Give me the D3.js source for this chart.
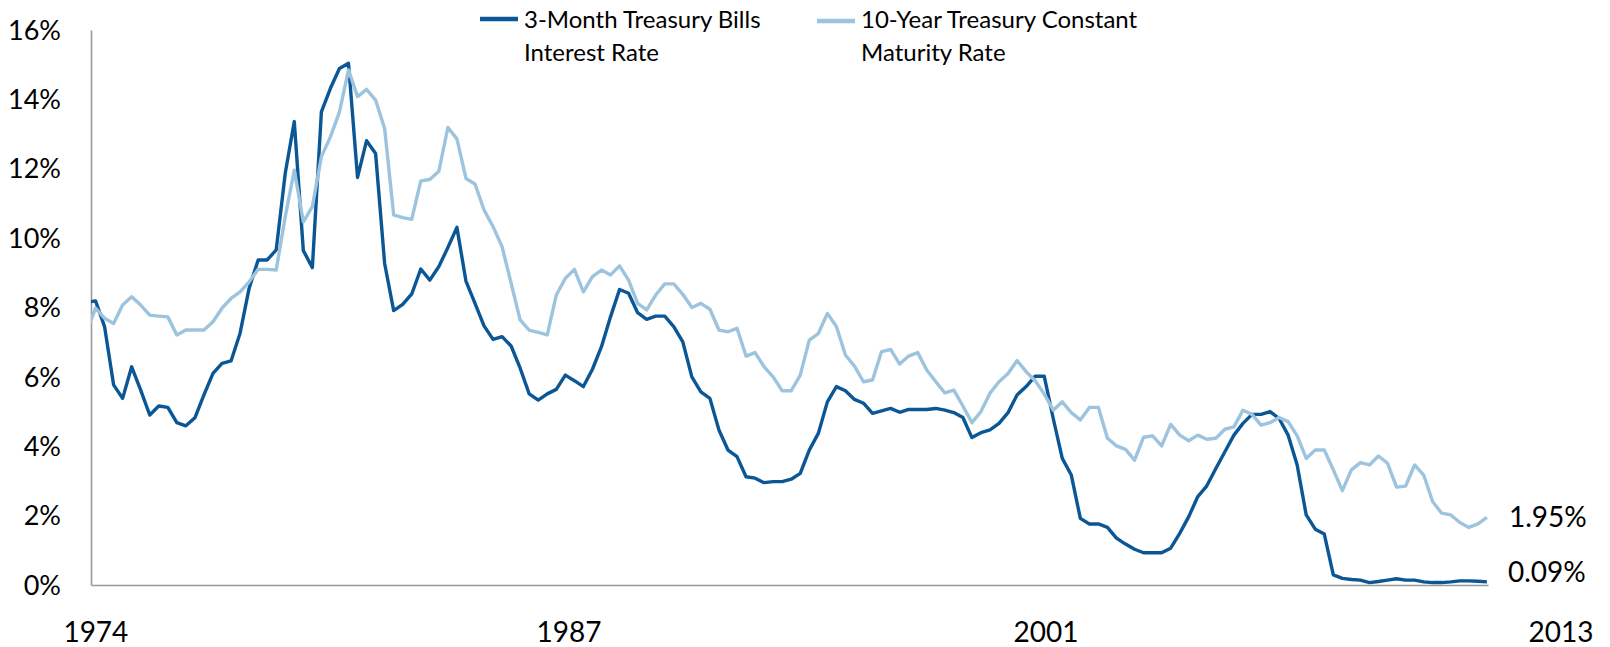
<!DOCTYPE html>
<html>
  <head>
    <meta charset="utf-8">
    <title>treasury-rates.html</title>
    <script type="text/javascript" src="https://cdn.jsdelivr.net/npm/d3@7"></script>
    <style type="text/css">
            body { margin: 0; background: #fff; }
            svg text {
                font-family: Lato, "Open Sans", sans-serif;
                fill: #000;
            }
    </style>
    </head>
    <body>
        <script type="text/javascript">
            var w = 1610;
            var h = 647;

            // quarterly averages, 1974 Q2 .. 2013 Q1
            var startYear = 1974.25;
            var billsRate = [
                8.15, 8.19, 7.45, 5.77, 5.38, 6.29, 5.62, 4.90, 5.16, 5.12,
                4.68, 4.59, 4.82, 5.48, 6.10, 6.39, 6.46, 7.26, 8.55, 9.37,
                9.37, 9.66, 11.87, 13.36, 9.64, 9.15, 13.64, 14.32, 14.89, 15.04,
                11.75, 12.81, 12.44, 9.27, 7.91, 8.09, 8.39, 9.11, 8.79, 9.18,
                9.73, 10.31, 8.76, 8.12, 7.47, 7.08, 7.16, 6.89, 6.25, 5.51,
                5.33, 5.51, 5.64, 6.05, 5.89, 5.72, 6.22, 6.87, 7.73, 8.52,
                8.41, 7.85, 7.66, 7.75, 7.75, 7.45, 7.01, 6.00, 5.57, 5.38,
                4.47, 3.89, 3.70, 3.12, 3.08, 2.95, 2.98, 2.98, 3.05, 3.22,
                3.89, 4.37, 5.28, 5.72, 5.60, 5.35, 5.24, 4.95, 5.02, 5.09,
                4.98, 5.06, 5.06, 5.06, 5.09, 5.04, 4.97, 4.83, 4.25, 4.39,
                4.47, 4.66, 4.97, 5.48, 5.72, 6.02, 6.02, 4.80, 3.65, 3.17,
                1.92, 1.76, 1.76, 1.66, 1.35, 1.18, 1.03, 0.93, 0.93, 0.93,
                1.06, 1.49, 1.97, 2.55, 2.86, 3.36, 3.84, 4.32, 4.66, 4.92,
                4.92, 5.00, 4.80, 4.32, 3.46, 2.02, 1.61, 1.47, 0.29, 0.19,
                0.16, 0.14, 0.07, 0.10, 0.14, 0.18, 0.14, 0.14, 0.09, 0.07,
                0.07, 0.09, 0.12, 0.12, 0.11, 0.09
            ];
            var tenYearRate = [
                7.30, 7.98, 7.69, 7.54, 8.07, 8.31, 8.07, 7.78, 7.75, 7.73,
                7.21, 7.35, 7.35, 7.35, 7.59, 7.98, 8.26, 8.45, 8.74, 9.10,
                9.10, 9.08, 10.62, 11.96, 10.47, 10.91, 12.35, 12.92, 13.64, 14.85,
                14.08, 14.29, 13.98, 13.16, 10.67, 10.59, 10.54, 11.65, 11.69, 11.93,
                13.19, 12.86, 11.72, 11.56, 10.81, 10.33, 9.75, 8.70, 7.64, 7.35,
                7.28, 7.21, 8.36, 8.84, 9.10, 8.45, 8.89, 9.08, 8.94, 9.20,
                8.79, 8.12, 7.93, 8.36, 8.68, 8.68, 8.38, 8.00, 8.12, 7.95,
                7.35, 7.30, 7.40, 6.60, 6.70, 6.29, 6.00, 5.60, 5.60, 6.05,
                7.06, 7.25, 7.83, 7.45, 6.63, 6.31, 5.86, 5.91, 6.73, 6.79,
                6.37, 6.60, 6.70, 6.20, 5.86, 5.54, 5.62, 5.16, 4.68, 5.00,
                5.53, 5.86, 6.10, 6.47, 6.15, 5.89, 5.51, 5.04, 5.28, 4.97,
                4.76, 5.12, 5.12, 4.23, 4.01, 3.91, 3.60, 4.26, 4.30, 4.01,
                4.63, 4.32, 4.16, 4.32, 4.20, 4.23, 4.49, 4.56, 5.04, 4.92,
                4.61, 4.68, 4.83, 4.71, 4.30, 3.65, 3.89, 3.89, 3.32, 2.72,
                3.32, 3.53, 3.46, 3.72, 3.51, 2.82, 2.85, 3.46, 3.17, 2.40,
                2.07, 2.02, 1.80, 1.66, 1.76, 1.95
            ];
            var seriesNames = [
                ["3-Month Treasury Bills", "Interest Rate"],
                ["10-Year Treasury Constant", "Maturity Rate"]
            ];
            var seriesColors = ["#0b5796", "#9dc4de"];
            var yTicks = [0, 2, 4, 6, 8, 10, 12, 14, 16];
            var yearLabels = ["1974", "1987", "2001", "2013"];
            var yearLabelAt = [1974.51, 1987.6, 2000.8, 2015.05];

            var quarters = d3.range(billsRate.length).map(function(i) { return startYear + i / 4; });

            // scales
            var xScale = d3.scaleLinear()
                           .domain([1974.375, 2013.03])
                           .range([91, 1488]);
            var yScale = d3.scaleLinear()
                           .domain([0, 16])
                           .range([585, 30]);

            var svg = d3.select("body")
                        .append("svg")
                        .attr("width", w)
                        .attr("height", h);

            svg.append("rect")
               .attr("width", w)
               .attr("height", h)
               .attr("fill", "#fff");

            svg.append("clipPath")
               .attr("id", "plot")
               .append("rect")
               .attr("x", xScale.range()[0])
               .attr("y", 0)
               .attr("width", w - xScale.range()[0])
               .attr("height", h);

            // axes (lines only, labels drawn separately)
            var yAxis = d3.axisLeft(yScale).tickValues([]).tickSizeOuter(0);
            var xAxis = d3.axisBottom(xScale).tickValues([]).tickSizeOuter(0);

            svg.append("g")
               .attr("class", "axis")
               .attr("transform", "translate(" + xScale.range()[0] + ",0)")
               .call(yAxis);
            svg.append("g")
               .attr("class", "axis")
               .attr("transform", "translate(0," + yScale(0) + ")")
               .call(xAxis);
            svg.selectAll(".axis path")
               .attr("stroke", "#999")
               .attr("stroke-width", 1.6);

            svg.selectAll(".ylab")
               .data(yTicks)
               .enter()
               .append("text")
               .attr("class", "ylab")
               .attr("x", 61)
               .attr("y", function(d) { return yScale(d); })
               .attr("dy", "0.36em")
               .attr("text-anchor", "end")
               .attr("font-size", "27px")
               .text(function(d) { return d + "%"; });

            svg.selectAll(".xlab")
               .data(yearLabels)
               .enter()
               .append("text")
               .attr("class", "xlab")
               .attr("x", function(d, i) { return xScale(yearLabelAt[i]); })
               .attr("y", 642)
               .attr("text-anchor", "middle")
               .attr("font-size", "28px")
               .text(function(d) { return d; });

            // lines
            var line = d3.line()
                         .x(function(d) { return xScale(d[0]); })
                         .y(function(d) { return yScale(d[1]); });

            var series = [billsRate, tenYearRate];
            series.forEach(function(vals, s) {
                svg.append("path")
                   .datum(vals.map(function(v, i) { return [quarters[i], v]; }))
                   .attr("clip-path", "url(#plot)")
                   .attr("fill", "none")
                   .attr("stroke", seriesColors[s])
                   .attr("stroke-width", 3.4)
                   .attr("stroke-linejoin", "round")
                   .attr("d", line);
            });

            // end values
            var lastBills = billsRate[billsRate.length - 1];
            var lastTen = tenYearRate[tenYearRate.length - 1];
            var xEnd = xScale(quarters[quarters.length - 1]);
            svg.append("text")
               .attr("x", xEnd + 22)
               .attr("y", yScale(lastTen))
               .attr("dy", "0.36em")
               .attr("font-size", "28px")
               .text(d3.format(".2f")(lastTen) + "%");
            svg.append("text")
               .attr("x", xEnd + 21)
               .attr("y", yScale(lastBills) - 10)
               .attr("dy", "0.36em")
               .attr("font-size", "28px")
               .text(d3.format(".2f")(lastBills) + "%");

            // legend
            var legendX = [480, 817];
            var legend = svg.selectAll(".legend")
                            .data(seriesNames)
                            .enter()
                            .append("g")
                            .attr("class", "legend")
                            .attr("transform", function(d, i) { return "translate(" + legendX[i] + ",0)"; });
            legend.append("line")
                  .attr("x1", 0)
                  .attr("x2", 38)
                  .attr("y1", function(d, i) { return i === 0 ? 19 : 21; })
                  .attr("y2", function(d, i) { return i === 0 ? 19 : 21; })
                  .attr("stroke", function(d, i) { return seriesColors[i]; })
                  .attr("stroke-width", 4.5);
            legend.each(function(d) {
                var t = d3.select(this).append("text")
                          .attr("x", 44)
                          .attr("y", 28)
                          .attr("font-size", "24px");
                t.selectAll("tspan")
                 .data(d)
                 .enter()
                 .append("tspan")
                 .attr("x", 44)
                 .attr("dy", function(l, j) { return j === 0 ? 0 : 33; })
                 .text(function(l) { return l; });
            });

        </script>

    </body>
</html>
